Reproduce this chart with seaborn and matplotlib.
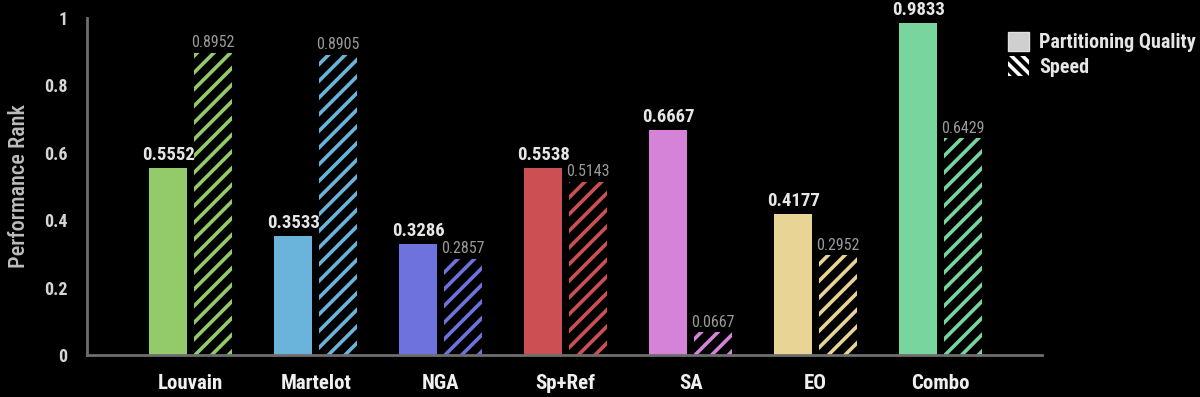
import matplotlib
matplotlib.use("Agg")
import matplotlib.pyplot as plt
from matplotlib.patches import Patch
import seaborn as sns
import pandas as pd

categories = ["Louvain", "Martelot", "NGA", "Sp+Ref", "SA", "EO", "Combo"]
quality = [0.5552, 0.3533, 0.3286, 0.5538, 0.6667, 0.4177, 0.9833]
speed = [0.8952, 0.8905, 0.2857, 0.5143, 0.0667, 0.2952, 0.6429]
series = ["Partitioning Quality", "Speed"]
colors = ["#93CB6A", "#6AB4DC", "#6E72DC", "#CC4F53", "#D582D9", "#E8D495", "#79D59E"]
y_ticks = [0, 0.2, 0.4, 0.6, 0.8, 1]
y_tick_labels = ["0", "0.2", "0.4", "0.6", "0.8", "1"]

df = pd.DataFrame({
    "category": categories * 2,
    "series": [series[0]] * len(categories) + [series[1]] * len(categories),
    "value": quality + speed,
})

sns.set_theme(style="dark")
FAM = ["Roboto Condensed", "Archivo Narrow", "Barlow Semi Condensed", "DejaVu Sans"]
plt.rcParams["font.family"] = FAM
plt.rcParams["hatch.linewidth"] = 2.6

fig = plt.figure(figsize=(12, 3.97), dpi=100, facecolor="black")
ax = fig.add_axes([0.0725, 0.106, 0.7958, 0.849])
ax.set_facecolor("black")

sns.barplot(data=df, x="category", y="value", hue="series", order=categories,
            hue_order=series, width=0.72, gap=0.15, ax=ax, legend=False,
            errorbar=None, saturation=1)

qc, sc = ax.containers[0], ax.containers[1]
for bar, c in zip(qc, colors):
    bar.set_facecolor(c)
    bar.set_edgecolor(c)
    bar.set_linewidth(0)
for bar, c in zip(sc, colors):
    bar.set_facecolor("black")
    bar.set_edgecolor(c)
    bar.set_hatch("//")
    bar.set_linewidth(0)

for bar, v in zip(qc, quality):
    ax.text(bar.get_x() + bar.get_width() / 2, v + 0.012, f"{v:.4f}",
            ha="center", va="bottom", color="#e6e6e6", fontsize=13.5,
            fontweight="bold", family=FAM, clip_on=False)
for bar, v in zip(sc, speed):
    ax.text(bar.get_x() + bar.get_width() / 2, v + 0.008, f"{v:.4f}",
            ha="center", va="bottom", color="#9a9a9a", fontsize=11.5,
            family=FAM, clip_on=False)

ax.set_xlim(-0.83, 6.81)
ax.set_ylim(0, 1)
ax.set_yticks(y_ticks)
ax.set_yticklabels(y_tick_labels)
ax.grid(False)
for s in ["top", "right"]:
    ax.spines[s].set_visible(False)
for s in ["left", "bottom"]:
    ax.spines[s].set_visible(True)
    ax.spines[s].set_color("#6e6e6e")
    ax.spines[s].set_linewidth(2)
ax.tick_params(axis="y", direction="in", length=4, width=1.5, color="#6e6e6e",
               labelcolor="#d6d6d6", labelsize=13, pad=14)
ax.tick_params(axis="x", length=0, labelcolor="#f0f0f0", labelsize=15, pad=14)
for lab in ax.get_yticklabels():
    lab.set_fontweight("bold")
for lab in ax.get_xticklabels():
    lab.set_fontweight("bold")
ax.set_xlabel("")
ax.set_ylabel("Performance Rank", color="#bdbdbd", fontsize=16, labelpad=10,
              fontweight="medium")

handles = [
    Patch(facecolor="#cfcfcf", edgecolor="#e0e0e0", linewidth=1, label=series[0]),
    Patch(facecolor="black", edgecolor="white", hatch="\\\\\\", linewidth=0, label=series[1]),
]
leg = fig.legend(handles=handles, loc="upper left", bbox_to_anchor=(0.840, 0.92),
                 frameon=False, prop={"family": FAM, "weight": "bold", "size": 14.5},
                 labelcolor="#e6e6e6", handlelength=1.05, handleheight=1.1,
                 handletextpad=0.5, labelspacing=0.2, borderaxespad=0,
                 borderpad=0)

fig.savefig("out.png", dpi=100, facecolor="black")
